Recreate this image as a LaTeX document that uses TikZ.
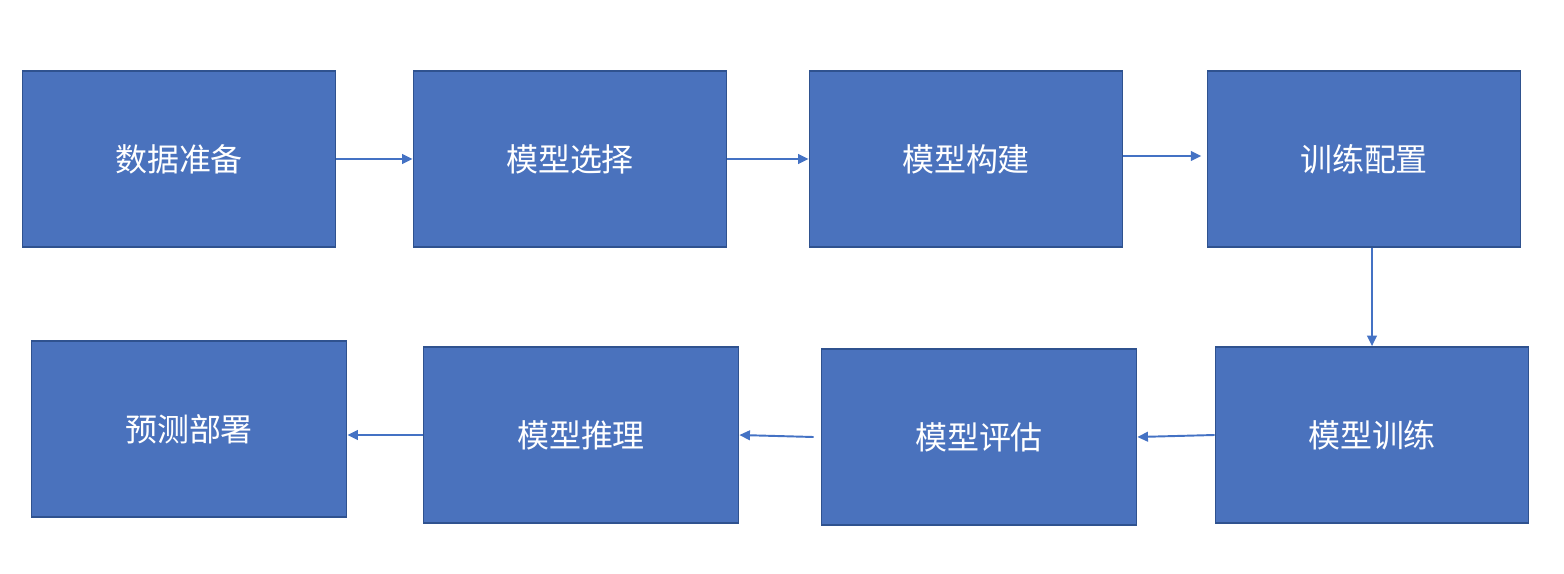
\documentclass[tikz,border=0pt]{standalone}
\usepackage{fontspec}
\newfontfamily\cjk{Noto Sans CJK SC}
\usetikzlibrary{arrows.meta}
\definecolor{boxfill}{HTML}{4A72BD}
\definecolor{boxline}{HTML}{2F528F}
\definecolor{arrowcol}{HTML}{4472C4}
\begin{document}
\begin{tikzpicture}
[x=0.02cm,y=-0.02cm,
step box/.style={rectangle,draw=boxline,fill=boxfill,line width=1pt,
  minimum width=313*0.02cm,minimum height=176*0.02cm,inner sep=0pt,
  text=white,font=\cjk\fontsize{18.2}{20}\selectfont},
wide box/.style={step box,minimum width=315*0.02cm},
flow/.style={arrowcol,line width=1.1pt,-{Triangle[length=6pt,width=5.5pt]}}]
\useasboundingbox (0,0) rectangle (1564,574);
%top row
	\node[step box] (data)   at (179,159)  {数据准备};
	\node[step box] (select) at (570,159)  {模型选择};
	\node[step box] (build)  at (966,159)  {模型构建};
	\node[step box] (config) at (1364,159) {训练配置};
%bottom row
	\node[step box] (train)  at (1372,435) {模型训练};
	\node[wide box] (eval)   at (979,437)  {模型评估};
	\node[wide box] (infer)  at (581,435)  {模型推理};
	\node[wide box] (deploy) at (189,429)  {预测部署};
%arrows
	\draw[flow] (data.east) -- (select.west);
	\draw[flow] (select.east) -- (build.west);
	\draw[flow,shorten >=3] (build.east |- 0,156) -- (config.west |- 0,156);
	\draw[flow] (train.north |- config.south) -- (train.north);
	\draw[flow] (train.west) -- (eval.east);
	\draw[flow] ([xshift=-4]eval.west) -- (infer.east);
	\draw[flow] (infer.west) -- (infer.west -| deploy.east);
\end{tikzpicture}
\end{document}
